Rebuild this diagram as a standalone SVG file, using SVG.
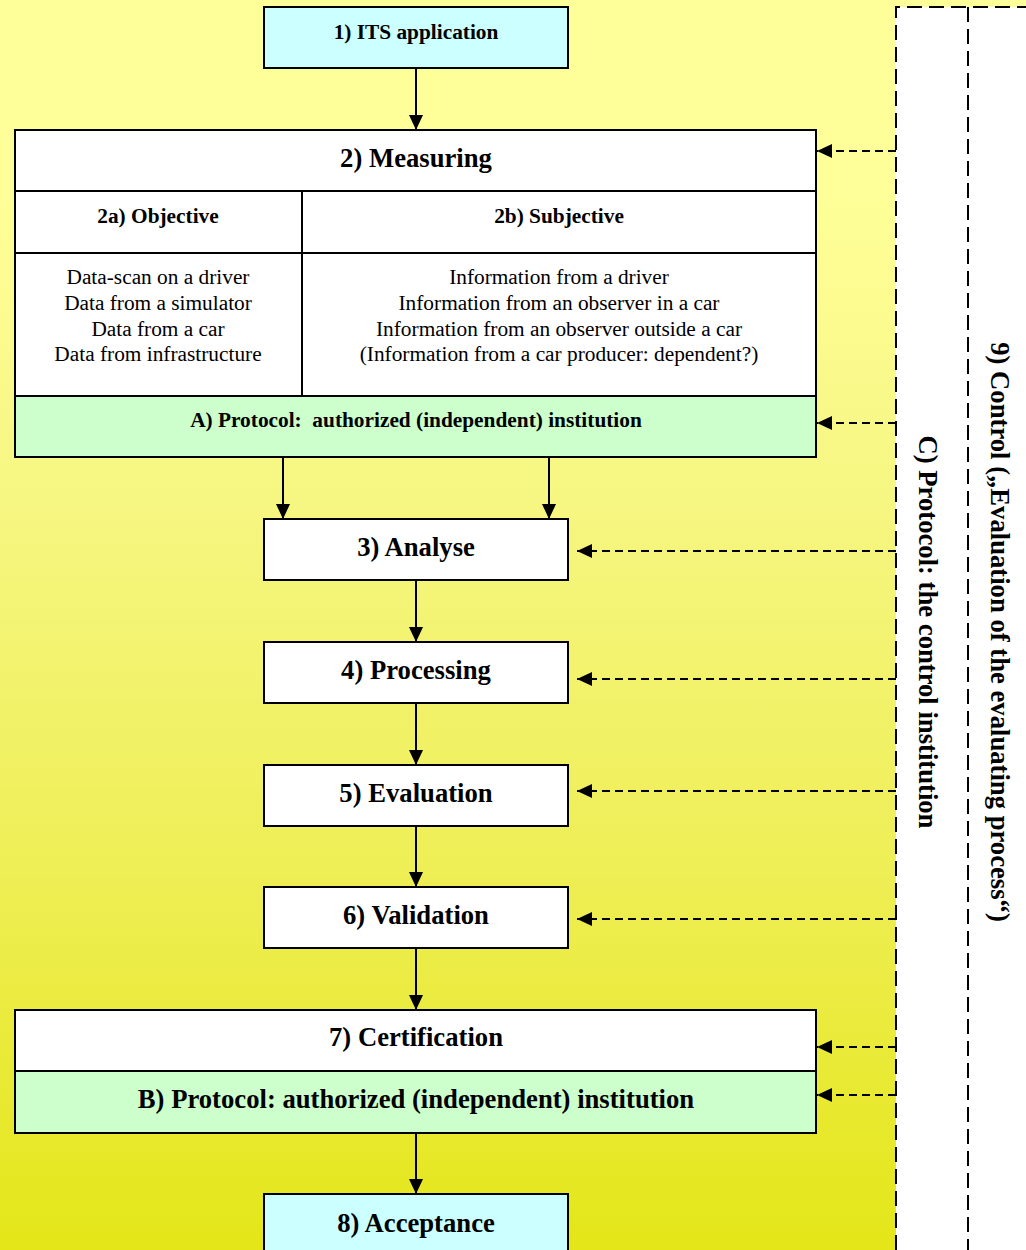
<svg xmlns="http://www.w3.org/2000/svg" width="1026" height="1250" viewBox="0 0 1026 1250">
<defs>
<linearGradient id="bg" x1="0" y1="0" x2="0" y2="1250" gradientUnits="userSpaceOnUse">
<stop offset="0" stop-color="#FFFF99"/>
<stop offset="0.15" stop-color="#FFFF99"/>
<stop offset="0.4" stop-color="#F6F682"/>
<stop offset="0.7" stop-color="#EEEE55"/>
<stop offset="1" stop-color="#E4E618"/>
</linearGradient>
<marker id="ah" viewBox="0 0 15 14" refX="15" refY="7" markerWidth="15" markerHeight="14" markerUnits="userSpaceOnUse" orient="auto">
<path d="M0,0 L15,7 L0,14 Z" fill="#000"/>
</marker>
</defs>
<style>
.box{stroke:#000;stroke-width:2}
.cyan{fill:#CCFFFF}
.white{fill:#FFFFFF}
.green{fill:#CCFFCC}
.div{stroke:#000;stroke-width:2;fill:none}
.t{font-family:"Liberation Serif","Times New Roman",serif;fill:#000;text-anchor:middle}
.b27{font-size:26.67px;font-weight:bold}
.b21{font-size:21.33px;font-weight:bold}
.r21{font-size:21.33px}
.solid{stroke:#000;stroke-width:2;fill:none;marker-end:url(#ah)}
.dash{stroke:#000;stroke-width:2;fill:none;stroke-dasharray:8 5;marker-end:url(#ah)}
.frame{stroke:#000;stroke-width:2;fill:none;stroke-dasharray:15 7}
</style>
<rect x="0" y="0" width="1026" height="1250" fill="url(#bg)"/>
<rect x="896" y="7" width="140" height="1260" fill="#FFFFFF"/>

<g id="control-frame">
<path class="frame" d="M896,1250 L896,7 L1026,7"/>
<path class="frame" d="M968,7 L968,1250"/>
<text class="t b27" transform="translate(991,632) rotate(90)">9) Control („Evaluation of the evaluating process“)</text>
<text class="t b27" transform="translate(919,632) rotate(90)">C) Protocol: the control institution</text>
</g>

<g id="n1">
<rect class="box cyan" x="264" y="7" width="304" height="61"/>
<text class="t b21" x="416" y="39">1) ITS application</text>
</g>

<g id="n2">
<rect class="box white" x="15" y="130" width="801" height="327"/>
<rect class="box green" x="15" y="396" width="801" height="61"/>
<path class="div" d="M15,191 H816 M15,253 H816 M302,191 V396"/>
<text class="t b27" x="416" y="167">2) Measuring</text>
<text class="t b21" x="158" y="223">2a) Objective</text>
<text class="t b21" x="559" y="223">2b) Subjective</text>
<text class="t r21" x="158" y="284">Data-scan on a driver</text>
<text class="t r21" x="158" y="310">Data from a simulator</text>
<text class="t r21" x="158" y="336">Data from a car</text>
<text class="t r21" x="158" y="361">Data from infrastructure</text>
<text class="t r21" x="559" y="284">Information from a driver</text>
<text class="t r21" x="559" y="310">Information from an observer in a car</text>
<text class="t r21" x="559" y="336">Information from an observer outside a car</text>
<text class="t r21" x="559" y="361">(Information from a car producer: dependent?)</text>
<text class="t b21" x="416" y="427" xml:space="preserve">A) Protocol:  authorized (independent) institution</text>
</g>

<g id="n3">
<rect class="box white" x="264" y="519" width="304" height="61"/>
<text class="t b27" x="416" y="556">3) Analyse</text>
</g>
<g id="n4">
<rect class="box white" x="264" y="642" width="304" height="61"/>
<text class="t b27" x="416" y="679">4) Processing</text>
</g>
<g id="n5">
<rect class="box white" x="264" y="765" width="304" height="61"/>
<text class="t b27" x="416" y="802">5) Evaluation</text>
</g>
<g id="n6">
<rect class="box white" x="264" y="887" width="304" height="61"/>
<text class="t b27" x="416" y="924">6) Validation</text>
</g>
<g id="n7">
<rect class="box white" x="15" y="1010" width="801" height="123"/>
<rect class="box green" x="15" y="1071" width="801" height="62"/>
<text class="t b27" x="416" y="1046">7) Certification</text>
<text class="t b27" x="416" y="1108">B) Protocol: authorized (independent) institution</text>
</g>
<g id="n8">
<rect class="box cyan" x="264" y="1194" width="304" height="70"/>
<text class="t b27" x="416" y="1232">8) Acceptance</text>
</g>

<g id="connectors">
<path class="solid" d="M416,68 V130"/>
<path class="solid" d="M283,457 V519"/>
<path class="solid" d="M549,457 V519"/>
<path class="solid" d="M416,580 V642"/>
<path class="solid" d="M416,703 V765"/>
<path class="solid" d="M416,826 V887"/>
<path class="solid" d="M416,948 V1010"/>
<path class="solid" d="M416,1133 V1194"/>
<path class="dash" d="M896,151 H817"/>
<path class="dash" d="M896,423 H817"/>
<path class="dash" d="M896,551 H577"/>
<path class="dash" d="M896,679 H577"/>
<path class="dash" d="M896,791 H577"/>
<path class="dash" d="M896,919 H577"/>
<path class="dash" d="M896,1047 H817"/>
<path class="dash" d="M896,1095 H817"/>
</g>
</svg>
